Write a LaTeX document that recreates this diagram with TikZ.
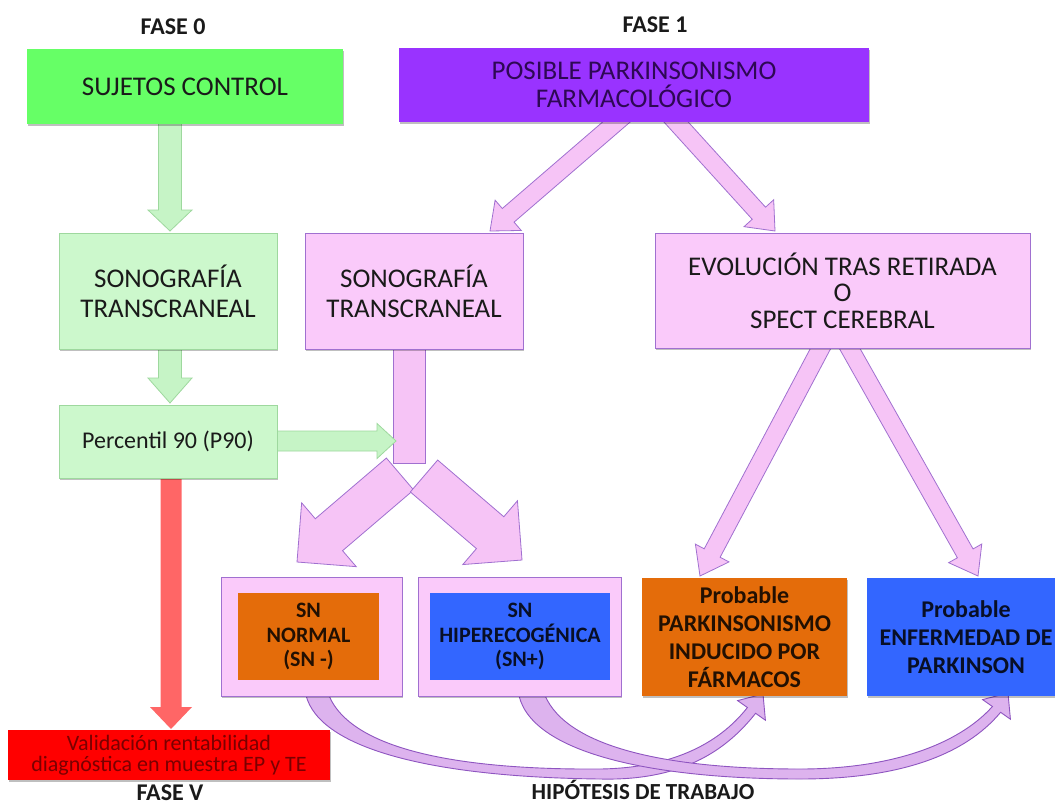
\documentclass[tikz,border=0pt]{standalone}
\usepackage{fontspec}
\setmainfont{Carlito}
\usetikzlibrary{calc,shadows}

\definecolor{ctrlgreen}{HTML}{66FF66}
\definecolor{lightgreen}{HTML}{CCF8CC}
\definecolor{greenedge}{HTML}{9ED89E}
\definecolor{greenfill}{HTML}{C6F4C6}
\definecolor{violetbox}{HTML}{9933FF}
\definecolor{violettext}{HTML}{2E0854}
\definecolor{pinkbox}{HTML}{FACAFA}
\definecolor{pinkedge}{HTML}{A070D0}
\definecolor{pinkfill}{HTML}{F6C4F6}
\definecolor{orangebox}{HTML}{E46C0A}
\definecolor{bluebox}{HTML}{3366FF}
\definecolor{redfill}{HTML}{FF6666}
\definecolor{redbox}{HTML}{FF0000}
\definecolor{redtext}{HTML}{7A0000}
\definecolor{curvefill}{HTML}{DDB3EE}
\definecolor{curveedge}{HTML}{8E55C0}
\definecolor{darktext}{HTML}{1A1A1A}

% block arrow: style, from, to, shaft half-width, head half-width, head length
\newcommand\flowarrow[6]{%
  \coordinate (fa-h) at ($(#3)!#6!(#2)$);
  \path[#1] ($(#2)!#4!90:(#3)$) -- ($(fa-h)!#4!90:(#3)$) -- ($(fa-h)!#5!90:(#3)$) -- (#3)
    -- ($(fa-h)!#5!-90:(#3)$) -- ($(fa-h)!#4!-90:(#3)$) -- ($(#2)!#4!-90:(#3)$) -- cycle;
}

\tikzset{
  box/.style={rectangle, inner sep=0pt, align=center, text=darktext},
  shade box/.style={drop shadow={shadow xshift=0.8pt, shadow yshift=-1.8pt, opacity=0.25, fill=black}},
  ctrlbox/.style={box, fill=ctrlgreen, shade box, font=\fontsize{27}{30}\selectfont},
  greenbox/.style={box, fill=lightgreen, draw=greenedge, line width=0.6pt, shade box},
  violetstyle/.style={box, fill=violetbox, text=violettext, shade box, font=\fontsize{27}{28}\selectfont},
  pinkstyle/.style={box, fill=pinkbox, draw=pinkedge, line width=0.8pt, shade box},
  orangestyle/.style={box, fill=orangebox, text=black!85!orangebox},
  bluestyle/.style={box, fill=bluebox, text=black!85!bluebox},
  redstyle/.style={box, fill=redbox, text=redtext, shade box, font=\fontsize{22}{21}\selectfont},
  phase/.style={font=\bfseries\fontsize{24}{28}\selectfont, text=darktext, inner sep=0pt},
  greenarrow/.style={fill=greenfill, draw=greenedge, line width=0.8pt},
  pinkarrow/.style={fill=pinkfill, draw=pinkedge, line width=0.8pt},
  redarrow/.style={fill=redfill},
  curvearrow/.style={fill=curvefill, draw=curveedge, line width=0.9pt}
}

\begin{document}
\begin{tikzpicture}[x=1pt,y=-1pt]
\clip (0,0) rectangle (1055,806);
\fill[white] (0,0) rectangle (1055,806);

% ---------- anchor points of the arrows ----------
\coordinate (g1s) at (170,118);  \coordinate (g1e) at (170,231);
\coordinate (g2s) at (170,345);  \coordinate (g2e) at (170,403);
\coordinate (g3s) at (272,441);  \coordinate (g3e) at (396,441);
\coordinate (r1s) at (171,474);  \coordinate (r1e) at (171,729);
\coordinate (p1s) at (628,112);  \coordinate (p1e) at (490,231);
\coordinate (p2s) at (667,112);  \coordinate (p2e) at (775,231);
\coordinate (e1s) at (824,342);  \coordinate (e1e) at (700,576);
\coordinate (e2s) at (846,342);  \coordinate (e2e) at (978,576);
\coordinate (d1s) at (400,474);  \coordinate (d1e) at (297,562);
\coordinate (d2s) at (424,476);  \coordinate (d2e) at (522,560);

% ---------- phase 0 arrows ----------
\flowarrow{greenarrow}{g1s}{g1e}{11.5pt}{22pt}{21pt}
\flowarrow{greenarrow}{g2s}{g2e}{11.5pt}{22pt}{25pt}
\flowarrow{redarrow}{r1s}{r1e}{10.5pt}{21pt}{22pt}

% ---------- phase 1 arrows ----------
\flowarrow{pinkarrow}{p1s}{p1e}{9pt}{20pt}{24pt}
\flowarrow{pinkarrow}{p2s}{p2e}{9pt}{20pt}{24pt}
\flowarrow{pinkarrow}{e1s}{e1e}{9pt}{19pt}{26pt}
\flowarrow{pinkarrow}{e2s}{e2e}{9pt}{19pt}{26pt}

% trunk below the second sonography and its two branches
\draw[pinkarrow] (393,345) rectangle (425,463);
\flowarrow{pinkarrow}{d1s}{d1e}{21pt}{42pt}{42pt}
\flowarrow{pinkarrow}{d2s}{d2e}{21pt}{42pt}{42pt}
\flowarrow{greenarrow}{g3s}{g3e}{10pt}{17.5pt}{19pt}

% ---------- working-hypothesis curved arrows ----------
\coordinate (c1a) at (305,690); \coordinate (c1b) at (327,690);
\coordinate (c1t) at (763,694);
\path[curvearrow] (c1a) .. controls (312,745) and (420,777) .. (600,779)
  .. controls (680,781) and (725,752) .. (755.6,713.3)
  -- (765.4,720.2) -- (c1t) -- (737.6,700.6) -- (747.4,707.5)
  .. controls (718,745) and (670,768) .. (600,769)
  .. controls (460,770) and (345,750) .. (c1b) -- cycle;
\coordinate (c2a) at (518,690); \coordinate (c2b) at (543,690);
\coordinate (c2t) at (1008,693);
\path[curvearrow] (c2a) .. controls (525,752) and (650,779) .. (800,779)
  .. controls (900,779) and (965,755) .. (1000.6,712.3)
  -- (1010.4,719.2) -- (c2t) -- (982.6,699.6) -- (992.4,706.5)
  .. controls (958,745) and (890,769) .. (800,769)
  .. controls (660,769) and (560,745) .. (c2b) -- cycle;

% ---------- phase 0 boxes ----------
\node[phase] (fase0) at (173,27) {FASE 0};
\node[ctrlbox, minimum width=316pt, minimum height=75pt] (control) at (185,86.5) {SUJETOS CONTROL};
\node[greenbox, minimum width=218pt, minimum height=116pt, font=\fontsize{27}{30}\selectfont] (sonoA) at (168,291) {SONOGRAFÍA\\TRANSCRANEAL};
\node[greenbox, minimum width=218pt, minimum height=73pt, font=\fontsize{24}{28}\selectfont] (perc) at (168,441.5) {Percentil 90 (P90)};
\node[redstyle, minimum width=322pt, minimum height=50pt] (valid) at (169,755) {Validación rentabilidad\\diagnóstica en muestra EP y TE};
\node[phase] (faseV) at (170,793) {FASE V};

% ---------- phase 1 boxes ----------
\node[phase] (fase1) at (655,25) {FASE 1};
\node[violetstyle, minimum width=470pt, minimum height=74pt] (posible) at (634,85) {POSIBLE PARKINSONISMO\\FARMACOLÓGICO};
\node[pinkstyle, minimum width=218pt, minimum height=116pt, font=\fontsize{27}{30}\selectfont] (sonoB) at (414,291) {SONOGRAFÍA\\TRANSCRANEAL};
\node[pinkstyle, minimum width=375pt, minimum height=115pt, font=\fontsize{27}{26.5}\selectfont] (evol) at (842.5,290.5) {EVOLUCIÓN TRAS RETIRADA\\O\\SPECT CEREBRAL};

% ---------- results ----------
\node[pinkstyle, minimum width=181pt, minimum height=119pt] (snnout) at (311.5,636.5) {};
\node[orangestyle, minimum width=141pt, minimum height=87pt, font=\bfseries\fontsize{22}{24.5}\selectfont] (snn) at (308.5,636.5) {SN\\NORMAL\\(SN -)};
\node[pinkstyle, minimum width=203pt, minimum height=119pt] (snhout) at (519.5,636.5) {};
\node[bluestyle, minimum width=180pt, minimum height=87pt, font=\bfseries\fontsize{22}{24.5}\selectfont] (snh) at (520,636.5) {SN\\HIPERECOGÉNICA\\(SN+)};
\node[orangestyle, shade box, minimum width=205pt, minimum height=118pt, font=\bfseries\fontsize{24}{28}\selectfont] (pif) at (744.5,637) {Probable\\PARKINSONISMO\\INDUCIDO POR\\FÁRMACOS};
\node[bluestyle, shade box, minimum width=198pt, minimum height=118pt, font=\bfseries\fontsize{24}{28}\selectfont] (pep) at (966,637) {Probable\\ENFERMEDAD DE\\PARKINSON};

\node[phase, font=\bfseries\fontsize{23}{28}\selectfont] (hipotesis) at (643,790) {HIPÓTESIS DE TRABAJO};
\end{tikzpicture}
\end{document}
